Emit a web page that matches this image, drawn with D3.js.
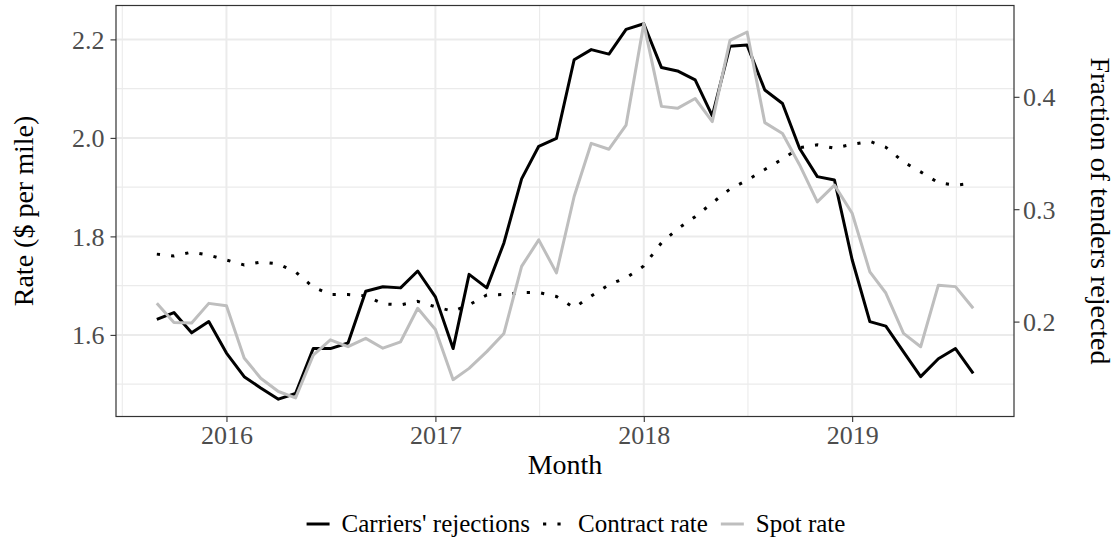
<!DOCTYPE html>
<html>
<head>
<meta charset="utf-8">
<script src="https://cdn.jsdelivr.net/npm/d3@7"></script>
<style>
  html, body { margin: 0; padding: 0; background: #ffffff; }
  svg { display: block; font-family: 'Liberation Serif', 'Times New Roman', serif; }
</style>
</head>
<body>
<div id="chart"></div>
<script>
// monthly observations, Sep 2015 .. Aug 2019
const months = d3.utcMonth.range(new Date(Date.UTC(2015, 8, 1)), new Date(Date.UTC(2019, 8, 1)));

// fraction of tenders rejected (right axis)
const rejections = [
  0.202, 0.208, 0.190, 0.200, 0.172, 0.151, 0.141, 0.131, 0.136, 0.176, 0.176, 0.181,
  0.227, 0.231, 0.230, 0.245, 0.222, 0.176, 0.242, 0.230, 0.270, 0.327, 0.356, 0.363,
  0.433, 0.442, 0.438, 0.460, 0.465, 0.426, 0.423, 0.415, 0.383, 0.445, 0.446, 0.406,
  0.394, 0.354, 0.329, 0.326, 0.255, 0.200, 0.196, 0.173, 0.151, 0.167, 0.176, 0.154
];

// contract rate, $ per mile (left axis)
const contractRate = [
  1.764, 1.760, 1.768, 1.762, 1.752, 1.742, 1.748, 1.744, 1.728, 1.697, 1.682, 1.682,
  1.679, 1.663, 1.661, 1.668, 1.657, 1.648, 1.661, 1.681, 1.682, 1.686, 1.686, 1.678,
  1.655, 1.679, 1.702, 1.716, 1.740, 1.787, 1.815, 1.840, 1.868, 1.896, 1.914, 1.936,
  1.957, 1.980, 1.986, 1.979, 1.987, 1.993, 1.981, 1.951, 1.931, 1.909, 1.904, 1.908
];

// spot rate, $ per mile (left axis)
const spotRate = [
  1.664, 1.625, 1.624, 1.664, 1.659, 1.553, 1.512, 1.485, 1.472, 1.559, 1.590, 1.576,
  1.593, 1.573, 1.586, 1.654, 1.611, 1.509, 1.532, 1.566, 1.603, 1.739, 1.793, 1.726,
  1.881, 1.989, 1.977, 2.026, 2.232, 2.064, 2.060, 2.080, 2.033, 2.198, 2.215, 2.031,
  2.009, 1.945, 1.870, 1.904, 1.847, 1.728, 1.685, 1.603, 1.576, 1.701, 1.698, 1.654
];

const leftTicks = [1.6, 1.8, 2.0, 2.2];
const leftMinor = [1.5, 1.7, 1.9, 2.1];
const rightTicks = [0.2, 0.3, 0.4];
const yearTicks = [2016, 2017, 2018, 2019];

const legendItems = [
  { label: "Carriers' rejections", color: '#000000', dash: null },
  { label: 'Contract rate', color: '#000000', dash: '3.2 11.2' },
  { label: 'Spot rate', color: '#BEBEBE', dash: null }
];

const W = 1116, H = 537;
const panel = { left: 116, right: 1014, top: 5.5, bottom: 416.5 };

const svg = d3.select('#chart').append('svg')
  .attr('width', W).attr('height', H)
  .attr('viewBox', `0 0 ${W} ${H}`);

// x: dates with 5% padding like ggplot
const first = months[0], last = months[months.length - 1];
const pad = (last - first) * 0.05;
const x = d3.scaleUtc()
  .domain([new Date(+first - pad), new Date(+last + pad)])
  .range([panel.left, panel.right]);

const yLeft = d3.scaleLinear().domain([1.4343, 2.2688]).range([panel.bottom, panel.top]);
const yRight = d3.scaleLinear().domain([0.11556, 0.48124]).range([panel.bottom, panel.top]);

const yearDates = yearTicks.map(yr => new Date(Date.UTC(yr, 0, 1)));
const minorDates = [2015].concat(yearTicks).map(yr => {
  const a = new Date(Date.UTC(yr, 0, 1)), b = new Date(Date.UTC(yr + 1, 0, 1));
  return new Date((+a + +b) / 2);
});

const grid = svg.append('g');
grid.selectAll('.hminor').data(leftMinor).join('line')
  .attr('x1', panel.left).attr('x2', panel.right)
  .attr('y1', d => yLeft(d)).attr('y2', d => yLeft(d))
  .attr('stroke', '#EBEBEB').attr('stroke-width', 1.1);
grid.selectAll('.vminor').data(minorDates).join('line')
  .attr('x1', d => x(d)).attr('x2', d => x(d))
  .attr('y1', panel.top).attr('y2', panel.bottom)
  .attr('stroke', '#EBEBEB').attr('stroke-width', 1.1);
grid.selectAll('.hmajor').data(leftTicks).join('line')
  .attr('x1', panel.left).attr('x2', panel.right)
  .attr('y1', d => yLeft(d)).attr('y2', d => yLeft(d))
  .attr('stroke', '#EBEBEB').attr('stroke-width', 2);
grid.selectAll('.vmajor').data(yearDates).join('line')
  .attr('x1', d => x(d)).attr('x2', d => x(d))
  .attr('y1', panel.top).attr('y2', panel.bottom)
  .attr('stroke', '#EBEBEB').attr('stroke-width', 2);

// series
const lineRight = d3.line().x((d, i) => x(months[i])).y(d => yRight(d));
const lineLeft = d3.line().x((d, i) => x(months[i])).y(d => yLeft(d));

svg.append('path').datum(rejections)
  .attr('fill', 'none').attr('stroke', '#000000').attr('stroke-width', 3)
  .attr('stroke-linejoin', 'round')
  .attr('d', lineRight);

svg.append('path').datum(contractRate)
  .attr('fill', 'none').attr('stroke', '#000000').attr('stroke-width', 3)
  .attr('stroke-dasharray', '3.2 11.2')
  .attr('d', lineLeft);

svg.append('path').datum(spotRate)
  .attr('fill', 'none').attr('stroke', '#BEBEBE').attr('stroke-width', 3)
  .attr('stroke-linejoin', 'round')
  .attr('d', lineLeft);

// panel border
svg.append('rect')
  .attr('x', panel.left).attr('y', panel.top)
  .attr('width', panel.right - panel.left).attr('height', panel.bottom - panel.top)
  .attr('fill', 'none').attr('stroke', '#333333').attr('stroke-width', 1.2);

// axes
function styleAxis(g) {
  g.select('.domain').remove();
  g.selectAll('.tick line').attr('stroke', '#333333').attr('stroke-width', 1.1);
  g.selectAll('.tick text')
    .attr('fill', '#4D4D4D')
    .style('font-family', "'Liberation Serif', 'Times New Roman', serif")
    .style('font-size', '26px');
}

svg.append('g')
  .attr('transform', `translate(${panel.left},0)`)
  .call(d3.axisLeft(yLeft).tickValues(leftTicks).tickFormat(d3.format('.1f')).tickSizeOuter(0).tickSize(5.5).tickPadding(6))
  .call(styleAxis)
  .selectAll('.tick text').attr('dy', '0.34em');

svg.append('g')
  .attr('transform', `translate(${panel.right},0)`)
  .call(d3.axisRight(yRight).tickValues(rightTicks).tickFormat(d3.format('.1f')).tickSizeOuter(0).tickSize(5.5).tickPadding(3.5))
  .call(styleAxis)
  .selectAll('.tick text').attr('dy', '0.34em');

svg.append('g')
  .attr('transform', `translate(0,${panel.bottom})`)
  .call(d3.axisBottom(x).tickValues(yearDates).tickFormat(d3.utcFormat('%Y')).tickSizeOuter(0).tickSize(5.5).tickPadding(4))
  .call(styleAxis)
  .selectAll('.tick text').attr('dy', '0.71em');

// titles
svg.append('text')
  .attr('x', (panel.left + panel.right) / 2).attr('y', 474)
  .attr('text-anchor', 'middle').attr('font-size', 28).attr('fill', '#000')
  .text('Month');

svg.append('text')
  .attr('transform', `translate(33,${(panel.top + panel.bottom) / 2}) rotate(-90)`)
  .attr('text-anchor', 'middle').attr('font-size', 28).attr('fill', '#000')
  .text('Rate ($ per mile)');

svg.append('text')
  .attr('transform', `translate(1091,${(panel.top + panel.bottom) / 2}) rotate(90)`)
  .attr('text-anchor', 'middle').attr('font-size', 28).attr('fill', '#000')
  .text('Fraction of tenders rejected');

// legend
const legend = svg.append('g');
const keyW = 23, keyGap = 12, itemGap = 13, legendY = 524;
let cx = 0;
legendItems.forEach(item => {
  const g = legend.append('g').attr('transform', `translate(${cx},0)`);
  g.append('line')
    .attr('x1', 0).attr('x2', keyW).attr('y1', legendY).attr('y2', legendY)
    .attr('stroke', item.color).attr('stroke-width', 3)
    .attr('stroke-dasharray', item.dash);
  const t = g.append('text')
    .attr('x', keyW + keyGap).attr('y', legendY + 8)
    .attr('font-size', 25).attr('fill', '#000')
    .text(item.label);
  cx += keyW + keyGap + t.node().getComputedTextLength() + itemGap;
});
const legendW = cx - itemGap;
legend.attr('transform', `translate(${576 - legendW / 2},0)`);
</script>
</body>
</html>
